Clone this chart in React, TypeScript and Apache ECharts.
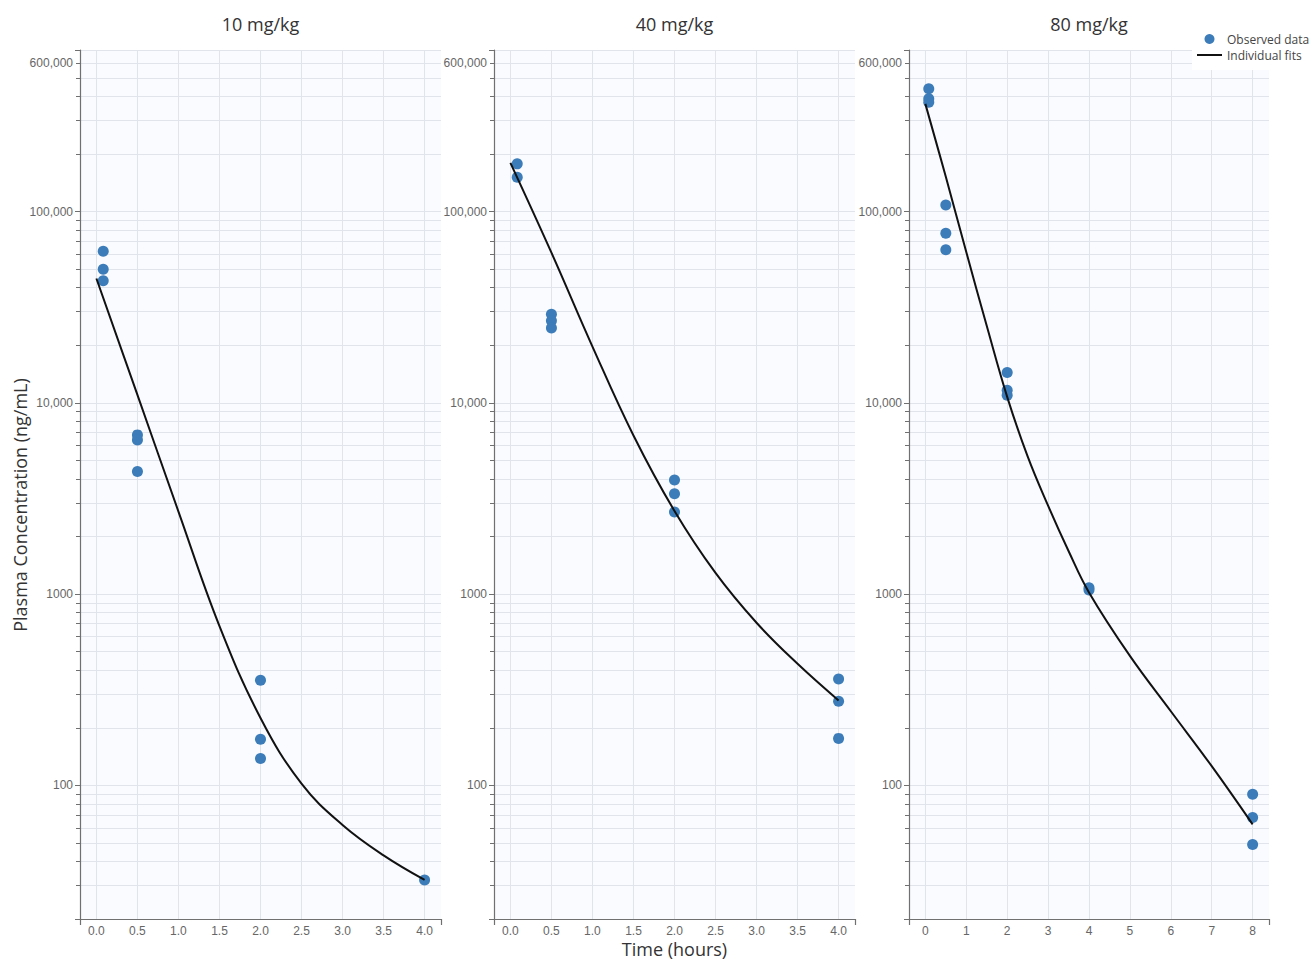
import React, { useEffect, useRef } from "react";
import * as echarts from "echarts";

// ---------- data ----------
const panelTitles = ["10 mg/kg", "40 mg/kg", "80 mg/kg"];

const obs10: number[][] = [
  [0.083, 62000], [0.083, 50000], [0.083, 43500],
  [0.5, 6800], [0.5, 6400], [0.5, 4370],
  [2, 354], [2, 174], [2, 138],
  [4, 32],
];
const fit10: number[][] = [
  [0, 44700], [0.5, 11000], [1, 2700], [1.5, 680], [2, 225],
  [2.5, 102], [3, 62], [3.5, 43], [4, 32],
];

const obs40: number[][] = [
  [0.083, 177700], [0.083, 151200],
  [0.5, 29100], [0.5, 26900], [0.5, 24600],
  [2, 3955], [2, 3350], [2, 2690],
  [4, 360], [4, 275], [4, 176],
];
const fit40: number[][] = [
  [0, 179900], [0.5, 61000], [1, 19700], [1.5, 6750], [2, 2720],
  [2.5, 1290], [3, 708], [3.5, 432], [4, 278],
];

const obs80: number[][] = [
  [0.083, 438900], [0.083, 389000], [0.083, 373600],
  [0.5, 108400], [0.5, 77000], [0.5, 63250],
  [2, 14400], [2, 11650], [2, 10970],
  [4, 1080], [4, 1050],
  [8, 89.8], [8, 67.9], [8, 49.1],
];
const fit80: number[][] = [
  [0, 366000], [0.5, 152000], [1, 61500], [1.5, 25300], [2, 10750],
  [2.5, 5250], [3, 2900], [3.5, 1680], [4, 1020], [5, 475],
  [6, 244], [7, 126], [8, 62.5],
];

const xTicksA = [0, 0.5, 1, 1.5, 2, 2.5, 3, 3.5, 4];
const xTicksB = [0, 1, 2, 3, 4, 5, 6, 7, 8];
const xRanges = [[-0.2, 4.2], [-0.2, 4.2], [-0.4, 8.4]];
const yTickLabels = [100, 1000, 10000, 100000, 600000];
const yRange = [20, 700000];

const observed = [obs10, obs40, obs80];
const fits = [fit10, fit40, fit80];

const OBS_NAME = "Observed data";
const FIT_NAME = "Individual fits";

// ---------- style ----------
const GRIDS = [
  { left: 80, width: 361 },
  { left: 494, width: 361 },
  { left: 909, width: 360 },
];
const TOP = 50;
const HEIGHT = 869;
const LABEL_FONT = '"Liberation Sans", Arial, sans-serif';
const TEXT_FONT = '"Open Sans", "Noto Sans", sans-serif';
const GRID_LINE = "#e2e4ec";
const AXIS_LINE = "#707070";
const LABEL_COLOR = "#666666";
const DOT = "#3b7cb9";

function fmtY(v: number): string {
  if (v >= 10000) return v.toLocaleString("en-US");
  return String(v);
}

export default function App() {
  const ref = useRef<HTMLDivElement>(null);

  useEffect(() => {
    document.body.style.margin = "0";
    if (!ref.current) return;
    const chart = echarts.init(ref.current, undefined, { renderer: "svg" });

    const grid = GRIDS.map((g) => ({
      left: g.left,
      top: TOP,
      width: g.width,
      height: HEIGHT,
      show: true,
      backgroundColor: "#fafbfe",
      borderWidth: 0,
      outerBoundsMode: "none",
    }));

    const xAxis: any[] = [];
    // visible axes (labels, end ticks)
    GRIDS.forEach((_, i) => {
      const ticks = i === 2 ? xTicksB : xTicksA;
      xAxis.push({
        type: "value",
        gridIndex: i,
        min: xRanges[i][0],
        max: xRanges[i][1],
        splitNumber: 9,
        axisLine: { show: true, onZero: false, lineStyle: { color: AXIS_LINE, width: 1.2 } },
        axisTick: { show: true, length: 6, customValues: [xRanges[i][0], xRanges[i][1]], lineStyle: { color: AXIS_LINE, width: 1.2 } },
        axisLabel: {
          show: true,
          customValues: ticks,
          margin: 6,
          color: LABEL_COLOR,
          fontSize: 12,
          fontFamily: LABEL_FONT,
          formatter: (v: number) => (i === 2 ? String(v) : v.toFixed(1)),
        },
        splitLine: { show: false },
      });
    });
    // helper axes: vertical grid lines
    GRIDS.forEach((_, i) => {
      const ticks = i === 2 ? xTicksB : xTicksA;
      xAxis.push({
        type: "value",
        gridIndex: i,
        min: xRanges[i][0],
        max: xRanges[i][1],
        splitNumber: 9,
        axisLine: { show: false },
        axisTick: { show: false, customValues: ticks },
        axisLabel: { show: false },
        splitLine: { show: true, lineStyle: { color: GRID_LINE, width: 1 } },
      });
    });

    const yAxis = GRIDS.map((_, i) => ({
      type: "log",
      logBase: 10,
      gridIndex: i,
      min: yRange[0],
      max: yRange[1],
      axisLine: { show: true, onZero: false, lineStyle: { color: AXIS_LINE, width: 1.2 } },
      axisTick: { show: true, length: 5, lineStyle: { color: AXIS_LINE, width: 1 } },
      minorTick: { show: true, splitNumber: 9, length: 4, lineStyle: { color: AXIS_LINE, width: 1 } },
      axisLabel: {
        show: true,
        customValues: yTickLabels,
        margin: 7,
        color: LABEL_COLOR,
        fontSize: 12,
        fontFamily: LABEL_FONT,
        formatter: (v: number) => fmtY(v),
      },
      splitLine: { show: true, lineStyle: { color: GRID_LINE, width: 1 } },
      minorSplitLine: { show: true, lineStyle: { color: GRID_LINE, width: 1 } },
    }));

    const series: any[] = [];
    GRIDS.forEach((_, i) => {
      series.push({
        name: OBS_NAME,
        type: "scatter",
        xAxisIndex: i,
        yAxisIndex: i,
        data: observed[i],
        symbol: "circle",
        symbolSize: 11,
        itemStyle: { color: DOT, opacity: 1 },
        z: 3,
      });
      series.push({
        name: FIT_NAME,
        type: "line",
        xAxisIndex: i,
        yAxisIndex: i,
        data: fits[i],
        smooth: 0.4,
        symbol: "none",
        showSymbol: false,
        lineStyle: { color: "#111", width: 2 },
        itemStyle: { color: "#111" },
        z: 4,
      });
    });

    const graphic: any[] = GRIDS.map((g, i) => ({
      type: "text",
      x: g.left + g.width / 2,
      y: 24,
      style: {
        text: panelTitles[i],
        align: "center",
        verticalAlign: "middle",
        fontSize: 18,
        fontFamily: TEXT_FONT,
        fill: "#333",
      },
    }));
    graphic.push({
      type: "text",
      x: 20,
      y: 505,
      rotation: Math.PI / 2,
      style: {
        text: "Plasma Concentration (ng/mL)",
        align: "center",
        verticalAlign: "middle",
        fontSize: 18,
        fontFamily: TEXT_FONT,
        fill: "#333",
      },
    });
    graphic.push({
      type: "text",
      x: GRIDS[1].left + GRIDS[1].width / 2,
      y: 949,
      style: {
        text: "Time (hours)",
        align: "center",
        verticalAlign: "middle",
        fontSize: 18,
        fontFamily: TEXT_FONT,
        fill: "#333",
      },
    });

    chart.setOption({
      animation: false,
      backgroundColor: "#ffffff",
      grid,
      xAxis,
      yAxis,
      series,
      graphic,
      legend: {
        show: true,
        orient: "vertical",
        left: 1192,
        top: 27,
        padding: [6, 5, 9, 5],
        backgroundColor: "#ffffff",
        itemWidth: 25,
        itemHeight: 10,
        itemGap: 4,
        symbolKeepAspect: true,
        textStyle: { fontSize: 12, color: "#444", fontFamily: TEXT_FONT },
        data: [
          { name: OBS_NAME, icon: "circle" },
          { name: FIT_NAME, icon: "path://M0,0 L25,0 L25,2 L0,2 Z", itemStyle: { color: "#111" } },
        ],
      },
    });

    return () => chart.dispose();
  }, []);

  return <div ref={ref} style={{ width: 1312, height: 961 }} />;
}
